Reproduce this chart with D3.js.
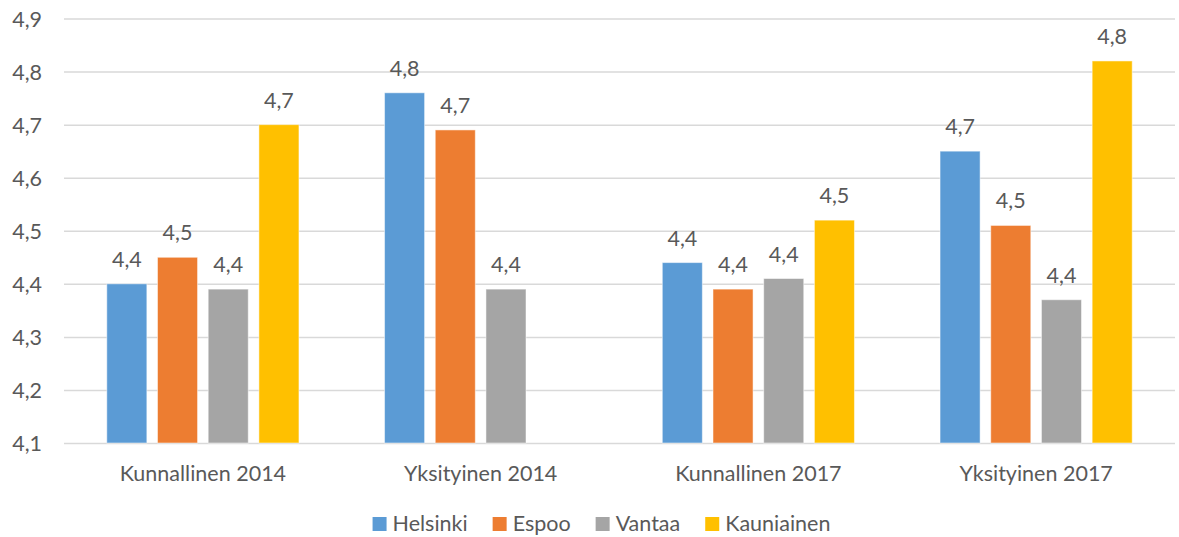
<!DOCTYPE html>
<html>
<head>
<meta charset="utf-8">
<script src="https://cdn.jsdelivr.net/npm/d3@7"></script>
<style>
    body { margin: 0; background: #ffffff; }
    text { font-family: Lato, "Open Sans", sans-serif; fill: #595959; }
</style>
</head>
<body>
<div id="Chart"></div>
<script>
// Categories on the x-axis
var categories = ["Kunnallinen 2014", "Yksityinen 2014", "Kunnallinen 2017", "Yksityinen 2017"];

// Series names (cities) and their values per category, null = no bar
var cities = ["Helsinki", "Espoo", "Vantaa", "Kauniainen"];
var helsinki = [4.40, 4.76, 4.44, 4.65];
var espoo = [4.45, 4.69, 4.39, 4.51];
var vantaa = [4.39, 4.39, 4.41, 4.37];
var kauniainen = [4.70, null, 4.52, 4.82];

// Y-axis ticks
var yTicks = [4.1, 4.2, 4.3, 4.4, 4.5, 4.6, 4.7, 4.8, 4.9];

var colours = {
    "Helsinki": "#5B9BD5",
    "Espoo": "#ED7D31",
    "Vantaa": "#A5A5A5",
    "Kauniainen": "#FFC000"
};

var W = 1179, H = 537;
var margin = {top: 18.5, right: 4, bottom: 94, left: 64};
var width = W - margin.left - margin.right;
var height = H - margin.top - margin.bottom;
var fontSize = "21.5px";

// Finnish decimal comma
function fmt(v) {
    return v.toFixed(1).replace(".", ",");
}

// Build the rows for drawing
var seriesValues = [helsinki, espoo, vantaa, kauniainen];
var rows = [];
categories.forEach(function (c, i) {
    cities.forEach(function (s, j) {
        if (seriesValues[j][i] !== null) {
            rows.push({category: c, city: s, value: seriesValues[j][i]});
        }
    });
});

var svg = d3.select("#Chart")
    .append("svg")
    .attr("width", W)
    .attr("height", H);

var g = svg.append("g")
    .attr("transform", "translate(" + margin.left + "," + margin.top + ")");

// X scales: one for the groups, one inside each group
var x0 = d3.scaleBand()
    .domain(categories)
    .range([0, width])
    .padding(0);

var x1 = d3.scaleBand()
    .domain(cities)
    .range([0, x0.bandwidth()])
    .paddingInner(0.21)
    .paddingOuter(0.844);

// Y scale
var y = d3.scaleLinear()
    .domain([4.1, 4.9])
    .range([height, 0]);

// Gridlines + tick labels via axisLeft
var yAxis = g.append("g")
    .attr("class", "y axis")
    .call(d3.axisLeft(y)
        .tickValues(yTicks)
        .tickSize(-width)
        .tickFormat(fmt));

yAxis.select(".domain").remove();
yAxis.selectAll("line")
    .attr("stroke", "#d9d9d9")
    .attr("stroke-width", 1.5);
yAxis.selectAll("text")
    .style("font-size", fontSize)
    .attr("fill", "#595959")
    .attr("x", -22)
    .attr("dy", "0.36em");

// Category labels via axisBottom
var xAxis = g.append("g")
    .attr("class", "x axis")
    .attr("transform", "translate(0," + height + ")")
    .call(d3.axisBottom(x0).tickSize(0).tickPadding(0));

xAxis.select(".domain").remove();
xAxis.selectAll("text")
    .style("font-size", fontSize)
    .attr("fill", "#595959")
    .attr("y", 38)
    .attr("dy", 0);

// The bars
g.selectAll("rect.bar")
    .data(rows)
    .enter()
    .append("rect")
    .attr("class", "bar")
    .attr("x", function (d) { return x0(d.category) + x1(d.city); })
    .attr("y", function (d) { return y(d.value); })
    .attr("width", x1.bandwidth())
    .attr("height", function (d) { return y(4.1) - y(d.value); })
    .attr("fill", function (d) { return colours[d.city]; })
    .attr("stroke", "#ffffff")
    .attr("stroke-opacity", 0.5)
    .attr("stroke-width", 1);

// Data labels above each bar
g.selectAll("text.label")
    .data(rows)
    .enter()
    .append("text")
    .attr("class", "label")
    .attr("x", function (d) { return x0(d.category) + x1(d.city) + x1.bandwidth() / 2; })
    .attr("y", function (d) { return y(d.value) - 17; })
    .attr("text-anchor", "middle")
    .style("font-size", fontSize)
    .text(function (d) { return fmt(d.value); });

// Hand made legend, centered under the chart
var legend = svg.append("g").attr("class", "legend");
var lx = 0;
cities.forEach(function (c) {
    var item = legend.append("g").attr("transform", "translate(" + lx + ",0)");
    item.append("rect")
        .attr("x", 0)
        .attr("y", -14)
        .attr("width", 14)
        .attr("height", 14)
        .attr("fill", colours[c]);
    var t = item.append("text")
        .attr("x", 20)
        .attr("y", 0)
        .style("font-size", fontSize)
        .text(c);
    lx += 20 + t.node().getComputedTextLength() + 25;
});
lx -= 25;
// Baseline kept a bit above the bottom edge so descenders are not cut
legend.attr("transform", "translate(" + ((W - lx) / 2 + 12) + ",531)");
</script>
</body>
</html>
